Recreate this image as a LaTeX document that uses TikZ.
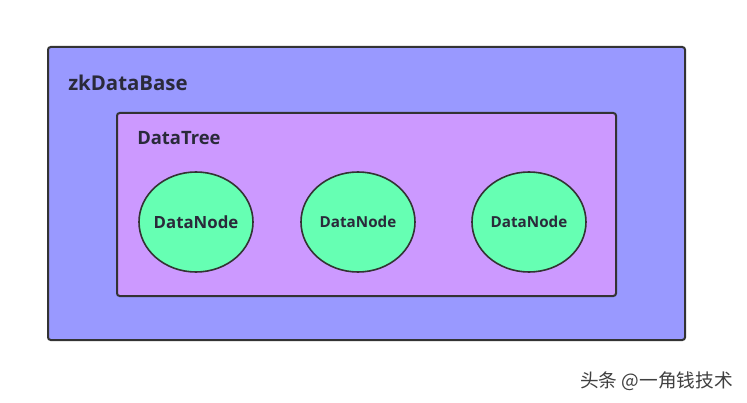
\documentclass[tikz,border=0pt]{standalone}
\usepackage{fontspec}
\usetikzlibrary{shapes.geometric}
\setmainfont{Open Sans}
\newfontfamily\cjk{Noto Sans CJK SC}
\definecolor{outerfill}{HTML}{9999FF}
\definecolor{innerfill}{HTML}{CC99FF}
\definecolor{nodefill}{HTML}{66FFB3}
\definecolor{edge}{HTML}{333333}
\definecolor{txt}{HTML}{2A2A3A}
\begin{document}
\begin{tikzpicture}[x=0.75pt,y=-0.75pt,
  box/.style={draw=edge,line width=1.5pt,rounded corners=2pt},
  dnode/.style={draw=edge,line width=1.2pt,fill=nodefill,ellipse,minimum width=85.5pt,minimum height=75pt,inner sep=0pt},
  lbl/.style={anchor=west,text=txt,font=\bfseries,inner sep=0pt}]
\useasboundingbox (0,0) rectangle (747,403);
\fill[white] (0,0) rectangle (747,403);
\draw[box,fill=outerfill] (48,47) rectangle (685,340);
\node[lbl,font=\bfseries\fontsize{15.3}{17}\selectfont] (zk) at (68,83) {zkDataBase};
\draw[box,fill=innerfill] (117,113) rectangle (616,296);
\node[lbl,font=\bfseries\fontsize{13.8}{15}\selectfont] (dt) at (137,138) {DataTree};
\node[dnode,label={[text=txt,font=\bfseries\fontsize{12.6}{14}\selectfont]center:DataNode}] (n1) at (196,222) {};
\node[dnode,label={[text=txt,font=\bfseries\fontsize{11.4}{13}\selectfont]center:DataNode}] (n2) at (358,222) {};
\node[dnode,label={[text=txt,font=\bfseries\fontsize{11.4}{13}\selectfont]center:DataNode}] (n3) at (529,222) {};
\node[anchor=west,inner sep=0pt,text=black!75,font=\cjk\fontsize{14}{16}\selectfont] (wm) at (580,381) {头条 @一角钱技术};
\end{tikzpicture}
\end{document}
